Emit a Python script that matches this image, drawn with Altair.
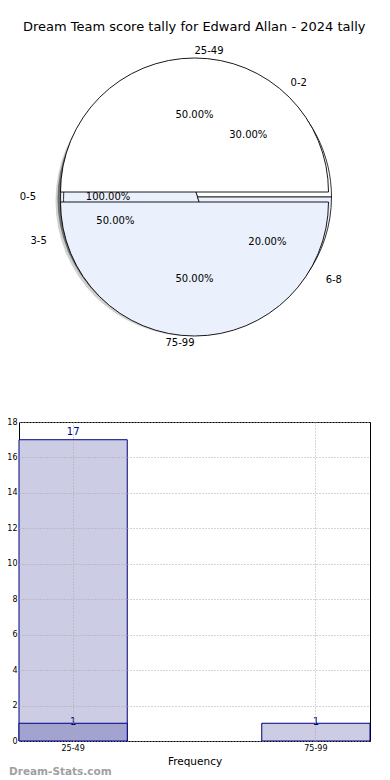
import math
import altair as alt
import pandas as pd

# ---------------- data ----------------
TITLE = "Dream Team score tally for Edward Allan - 2024 tally"

# pie rings (percent shares)
outer_cats = ["25-49", "75-99"]
outer_pcts = [50.0, 50.0]
middle_cats = ["0-2", "3-5", "6-8"]
middle_pcts = [30.0, 50.0, 20.0]
inner_cats = ["0-5"]
inner_pcts = [100.0]

# bar chart
bar_cats = ["25-49", "75-99"]
bar_total = [17, 1]
bar_sub = [1, 0]
y_ticks = [0, 2, 4, 6, 8, 10, 12, 14, 16, 18]

Y_TITLE = "Score Interval"
X_TITLE = "Frequency"
WATERMARK = "Dream-Stats.com"

# ---------------- styles ----------------
FONT = "DejaVu Sans"
LIGHT_BLUE = "#eaf0fc"
pie_colors = {"25-49": "#ffffff", "75-99": LIGHT_BLUE, "0-2": "#ffffff",
              "3-5": LIGHT_BLUE, "6-8": LIGHT_BLUE, "0-5": LIGHT_BLUE}
NAVY = "#000080"

PW, PH = 351, 316      # pie panel
BW, BH = 351, 319      # bar panel
R = 134                # arc radius (px)
RX, RY = 144, 128      # text ellipse radii (px)

rows = []
for ring, cats, pcts in [("inner", inner_cats, inner_pcts),
                         ("middle", middle_cats, middle_pcts),
                         ("outer", outer_cats, outer_pcts)]:
    for i, (c, p) in enumerate(zip(cats, pcts)):
        rows.append({"ring": ring, "cat": c, "pct": p, "order": i})
pie_df = pd.DataFrame(rows)

all_cats = list(pie_colors.keys())
fill_scale = alt.Scale(domain=all_cats, range=[pie_colors[c] for c in all_cats])
theta_scale = alt.Scale(domain=[0, 100], range=[math.pi / 2, math.pi / 2 - 2 * math.pi])
xs = alt.Scale(domain=[-PW / 2 / RX, PW / 2 / RX], nice=False, zero=False)
ys = alt.Scale(domain=[-PH / 2 / RY, PH / 2 / RY], nice=False, zero=False)

pie_base = (
    alt.Chart(pie_df)
    .transform_stack(stack="pct", groupby=["ring"], as_=["p0", "p1"],
                     sort=[alt.SortField("order", order="ascending")])
    .transform_calculate(
        ang="PI*(datum.p0+datum.p1)/100",
        c="cos(datum.ang)",
        s="sin(datum.ang)",
        lx="1.1*cos(datum.ang)",
        ly="1.1*sin(datum.ang)",
        px="0.6*cos(datum.ang)",
        py="0.6*sin(datum.ang)",
        ptxt="format(datum.pct, '.2f') + '%'",
    )
)


def arc_layer(flt, **mk):
    return pie_base.transform_filter(flt).mark_arc(radius=R, **mk).encode(
        theta=alt.Theta("p0:Q", scale=theta_scale),
        theta2="p1:Q",
        fill=alt.Fill("cat:N", scale=fill_scale, legend=None),
    )


shadow1 = pie_base.transform_filter("datum.ring == 'inner'").mark_arc(
    radius=R + 1, xOffset=-4, yOffset=4, opacity=0.35, fill="#777777"
).encode(theta=alt.Theta("p0:Q", scale=theta_scale), theta2="p1:Q")
shadow2 = pie_base.transform_filter("datum.ring == 'inner'").mark_arc(
    radius=R + 1, xOffset=-2, yOffset=2, opacity=0.7, fill="#444444"
).encode(theta=alt.Theta("p0:Q", scale=theta_scale), theta2="p1:Q")

inner_arc = arc_layer("datum.ring == 'inner'", stroke="black", strokeWidth=0.8)
middle_arc = arc_layer("datum.ring == 'middle'", stroke="black", strokeWidth=0.8, xOffset=3)
outer_top = arc_layer("datum.ring == 'outer' && datum.s > 0", stroke="black", strokeWidth=0.9, yOffset=-5)
outer_bot = arc_layer("datum.ring == 'outer' && datum.s <= 0", stroke="black", strokeWidth=0.9, yOffset=5)

text_specs = [
    ("datum.ring == 'outer' && datum.s > 0", 0, -5),
    ("datum.ring == 'outer' && datum.s <= 0", 0, 5),
    ("datum.ring == 'middle'", 3, 0),
    ("datum.ring == 'inner'", 0, 0),
]
text_layers = []
for flt, dxo, dyo in text_specs:
    for side, al in [("datum.c >= 0", "left"), ("datum.c < 0", "right")]:
        text_layers.append(
            pie_base.transform_filter(f"({flt}) && {side}")
            .mark_text(align=al, baseline="middle", fontSize=10, font=FONT,
                       color="black", xOffset=dxo, yOffset=dyo)
            .encode(x=alt.X("lx:Q", scale=xs, axis=None),
                    y=alt.Y("ly:Q", scale=ys, axis=None),
                    text="cat:N")
        )
    text_layers.append(
        pie_base.transform_filter(flt)
        .mark_text(align="center", baseline="middle", fontSize=10, font=FONT,
                   color="black", xOffset=dxo, yOffset=dyo)
        .encode(x=alt.X("px:Q", scale=xs, axis=None),
                y=alt.Y("py:Q", scale=ys, axis=None),
                text="ptxt:N")
    )

pie = alt.layer(shadow1, shadow2, inner_arc, middle_arc, outer_top, outer_bot,
                *text_layers).properties(
    width=PW, height=PH, view=alt.ViewBackground(stroke="transparent"))

# ---------------- bar chart ----------------
bar_df = pd.DataFrame({"cat": bar_cats, "total": bar_total, "sub": bar_sub})

xenc = alt.X(
    "cat:N", sort=bar_cats,
    scale=alt.Scale(paddingInner=0.554, paddingOuter=0),
    axis=alt.Axis(title=X_TITLE, labelAngle=0, grid=True, gridDash=[1, 2],
                  gridColor="#aaaaaa", bandPosition=0.5, ticks=False, domain=False,
                  labelFontSize=8, labelPadding=3, titleFontSize=10.5,
                  titleFontWeight="normal", titlePadding=4, zindex=1,
                  labelFont=FONT, titleFont=FONT, labelColor="black", titleColor="black"),
)
yscale = alt.Scale(domain=[0, 18], nice=False)
yaxis = alt.Axis(title=Y_TITLE, values=y_ticks, grid=True, gridDash=[1, 2],
                 gridColor="#aaaaaa", ticks=False, domain=False, labelFontSize=8,
                 labelPadding=2, titleFontSize=10, titleFontWeight="normal",
                 titlePadding=3, zindex=1, labelFont=FONT, titleFont=FONT,
                 labelColor="black", titleColor="black")

light = alt.Chart(bar_df).mark_bar(fill="#cccce4", stroke=NAVY, strokeWidth=1).encode(
    x=xenc, y=alt.Y("total:Q", scale=yscale, axis=yaxis))
dark = alt.Chart(bar_df).transform_filter("datum.sub > 0").mark_bar(
    fill="#a3a3d0", stroke=NAVY, strokeWidth=1).encode(
    x=xenc, y=alt.Y("sub:Q", scale=yscale, axis=yaxis))
lab_big = alt.Chart(bar_df).transform_filter("datum.total > 1").mark_text(
    baseline="bottom", dy=-3, fontSize=10, font=FONT, color=NAVY).encode(
    x=xenc, y=alt.Y("total:Q", scale=yscale, axis=yaxis), text="total:Q")
lab_small = alt.Chart(bar_df).transform_filter("datum.total <= 1").mark_text(
    baseline="middle", dy=-1, fontSize=10, font=FONT, color=NAVY).encode(
    x=xenc, y=alt.Y("total:Q", scale=yscale, axis=yaxis), text="total:Q")
lab_sub = alt.Chart(bar_df).transform_filter("datum.sub > 0").mark_text(
    baseline="middle", dy=-1, fontSize=10, font=FONT, color=NAVY).encode(
    x=xenc, y=alt.Y("sub:Q", scale=yscale, axis=yaxis), text="sub:Q")
wm = alt.Chart(bar_df).transform_filter("datum.total > 1").mark_text(
    text=WATERMARK, align="left", baseline="middle", fontSize=10.5,
    fontWeight="bold", font=FONT, color="#a0a0a0").encode(
    x=alt.value(-10), y=alt.value(BH + 31))

bar = alt.layer(light, dark, lab_big, lab_small, lab_sub, wm).properties(
    width=BW, height=BH,
    view=alt.ViewBackground(stroke="black", strokeWidth=1))

chart = alt.vconcat(pie, bar, spacing=61).properties(
    title=alt.TitleParams(TITLE, fontSize=13, font=FONT, fontWeight="normal",
                          anchor="middle", offset=5, color="black", dx=12),
    padding={"left": -15, "top": 12, "right": 0, "bottom": 0},
).configure(font=FONT)

chart.save("out.html", embed_options={"renderer": "svg", "actions": False})
